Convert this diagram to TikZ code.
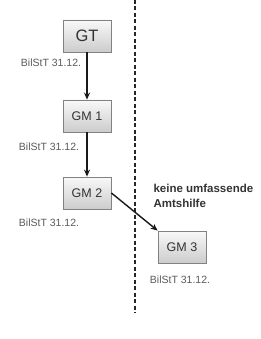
\documentclass[tikz,border=0pt]{standalone}
\usepackage{fontspec}
\setmainfont{Liberation Sans}
\usetikzlibrary{arrows.meta,positioning}
\definecolor{boxLine}{RGB}{130,130,130}
\definecolor{boxText}{RGB}{50,50,50}
\definecolor{dateText}{RGB}{90,90,90}

\begin{document}
\begin{tikzpicture}[x=1pt, y=-1pt,
    gbox/.style={draw=boxLine, line width=0.8pt, top color=gray!5, bottom color=gray!40, minimum width=48pt, minimum height=32pt, text=boxText, font=\fontsize{12.5}{14}\selectfont},
    datelabel/.style={text=dateText, font=\fontsize{10.5}{12}\selectfont},
    flow/.style={-{Stealth[length=7pt,width=6pt]}, line width=1.4pt, black!90}]
    \useasboundingbox (0,0) rectangle (261,339);

    \node[gbox, font=\fontsize{16.5}{18}\selectfont] (GT) at (87,36) {GT};
    \node[gbox] (GM1) at (87,116) {GM 1};
    \node[gbox] (GM2) at (87,193) {GM 2};
    \node[gbox] (GM3) at (182,247) {GM 3};

    \node[datelabel] (dGT) at (51,63) {BilStT 31.12.};
    \node[datelabel] (dGM1) at (49,147) {BilStT 31.12.};
    \node[datelabel] (dGM2) at (49,223) {BilStT 31.12.};
    \node[datelabel] (dGM3) at (180,280) {BilStT 31.12.};

    \node[text=black!80, font=\bfseries\fontsize{11.5}{15}\selectfont, align=left, anchor=north west] (note) at (150,181) {keine umfassende\\Amtshilfe};

    % border line
    \coordinate (divTop) at (135,0);
    \coordinate (divBot) at (135,313);
    \draw[black!85, line width=1.3pt, dash pattern=on 4pt off 2.5pt] (divTop) -- (divBot);

    \draw[flow] (GT) -- (GM1);
    \draw[flow] (GM1) -- (GM2);
    \draw[flow] (GM2.east) -- (GM3.north west);
\end{tikzpicture}
\end{document}
